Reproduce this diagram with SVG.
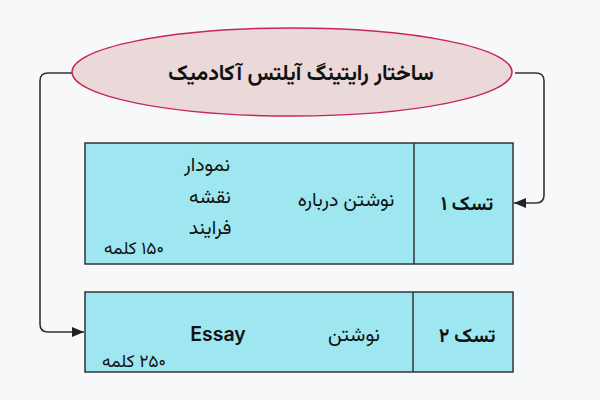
<svg xmlns="http://www.w3.org/2000/svg" width="600" height="400" viewBox="0 0 600 400">
<defs>
<style>
.fa{font-family:"Vazirmatn","Noto Sans Arabic","DejaVu Sans",sans-serif;fill:#111;direction:rtl;unicode-bidi:embed;text-anchor:middle}
.box{fill:#9ee7f0;stroke:#333;stroke-width:1.5}
.conn{fill:none;stroke:#333;stroke-width:1.6}
</style>
<marker id="arr" viewBox="0 0 12 10" refX="12" refY="5" markerWidth="12" markerHeight="10" markerUnits="userSpaceOnUse" orient="auto">
<path d="M0,0 L12,5 L0,10 Z" fill="#222"/>
</marker>
</defs>
<rect width="600" height="400" fill="#f7f8fa"/>
<g id="connectors">
<path class="conn" d="M72,73 H48 Q40,73 40,81 V324 Q40,332 48,332 H84" marker-end="url(#arr)"/>
<path class="conn" d="M515,73 H536 Q544,73 544,81 V195 Q544,203 536,203 H514" marker-end="url(#arr)"/>
</g>
<g id="title">
<ellipse cx="292" cy="72" rx="220" ry="44" fill="#ead9d8" stroke="#c8265a" stroke-width="1.5"/>
<text class="fa" x="301" y="80" font-size="21.5" font-weight="bold">ساختار رایتینگ آیلتس آکادمیک</text>
</g>
<g id="task1">
<rect class="box" x="85" y="143" width="428" height="121"/>
<line x1="414" y1="143" x2="414" y2="264" stroke="#333" stroke-width="1.5"/>
<text class="fa" x="467" y="210" font-size="19.5" font-weight="bold">تسک ۱</text>
<text class="fa" x="346" y="206" font-size="19.5">نوشتن درباره</text>
<text class="fa" x="207" y="171" font-size="19.5">نمودار</text>
<text class="fa" x="210" y="203" font-size="19.5">نقشه</text>
<text class="fa" x="210" y="234" font-size="19.5">فرایند</text>
<text class="fa" x="134" y="254" font-size="17.5">۱۵۰ کلمه</text>
</g>
<g id="task2">
<rect class="box" x="85" y="292" width="428" height="80"/>
<line x1="413" y1="292" x2="413" y2="372" stroke="#333" stroke-width="1.5"/>
<text class="fa" x="467" y="342" font-size="19.5" font-weight="bold">تسک ۲</text>
<text class="fa" x="354" y="341" font-size="20">نوشتن</text>
<text x="218" y="341" font-family="Inter, Roboto, sans-serif" font-size="19.5" font-weight="600" fill="#111" text-anchor="middle">Essay</text>
<text class="fa" x="134" y="367" font-size="17.5">۲۵۰ کلمه</text>
</g>
</svg>
